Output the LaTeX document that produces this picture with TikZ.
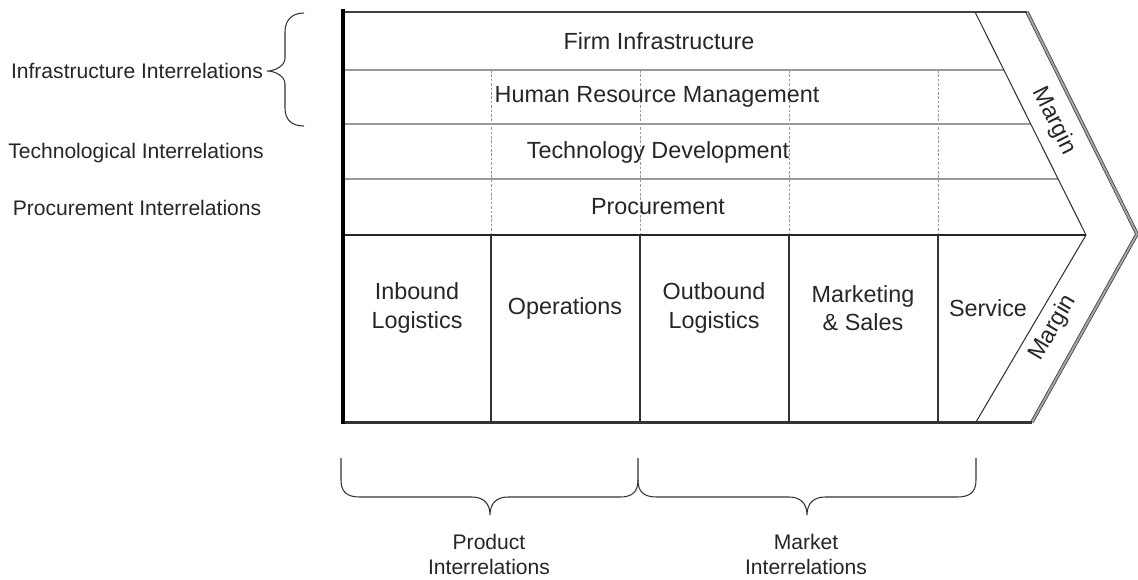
\documentclass[tikz,border=0pt]{standalone}
\usepackage{fontspec}
\setmainfont{Liberation Sans}
\usetikzlibrary{calc,positioning}

\tikzset{
  acttext/.style={font=\fontsize{13.3}{16}\selectfont, text=black!85, align=center, inner sep=0pt},
  sidetext/.style={font=\fontsize{12}{14.2}\selectfont, text=black!85, align=center, inner sep=0pt},
  supportline/.style={draw=black!40, line width=0.9pt},
  dotline/.style={draw=black!40, line width=0.5pt, dash pattern=on 1.5pt off 1pt},
  divline/.style={draw=black!80, line width=0.6pt},
  bracestroke/.style={draw=black!80, line width=0.6pt}
}

\begin{document}
\begin{tikzpicture}[x=0.02cm, y=-0.02cm]
\useasboundingbox (0,0) rectangle (1138,579);

% corners of the chain
\coordinate (tl) at (343,12);
\coordinate (ml) at (343,235);
\coordinate (bl) at (343,422);
\coordinate (tr) at (975,12);
\coordinate (tip) at (1086,235);
\coordinate (br) at (976,422);
\coordinate (otr) at (1027,12);
\coordinate (otip) at (1137,234);
\coordinate (obr) at (1032,422);

% dashed dividers through the support rows
\foreach \x in {491,640,789,938} {
    \draw[dotline] (\x,70) -- (\x,235);
}
% support rows end at the inner diagonal
\foreach \y/\xe in {70/1004, 124/1031, 179/1058} {
    \draw[supportline] (343,\y) -- (\xe,\y);
}
% primary activities
\draw[draw=black!85, line width=0.8pt] (ml) -- (tip);
\foreach \x in {491,640,789,938} {
    \draw[divline] (\x,235) -- (\x,422);
}

% margin diagonals
\draw[divline] (tr) -- (tip) -- (br);
\draw[draw=black!75, line width=0.45pt, double=black!35, double distance=1.1pt] (otr) -- (otip) -- (obr);

% outline
\draw[draw=black!75, line width=1.1pt] (tl) -- (otr);
\draw[draw=black!80, line width=1.7pt] (bl) -- (obr);
\draw[black, line width=2.8pt] (343,9) -- (343,424);

% support activities
\node[acttext] (firm) at (659,41) {Firm Infrastructure};
\node[acttext] (hrm) at (657,97) {Human Resource Management};
\node[acttext] (tech) at (658,152) {Technology Development};
\node[acttext] (proc) at (658,207) {Procurement};

% primary activities
\node[acttext] (inbound) at (417,308) {Inbound\\Logistics};
\node[acttext] (ops) at (565,308) {Operations};
\node[acttext] (outbound) at (714,308) {Outbound\\Logistics};
\node[acttext] (mkt) at (863,308) {Marketing\\\& Sales};
\node[acttext] (service) at (988,308) {Service};

% margin labels
\node[acttext, rotate=-63.5] (margin1) at (1054,121) {Margin};
\node[acttext, rotate=59.6] (margin2) at (1053,328) {Margin};

% interrelations on the left
\node[sidetext] (infra) at (137,71) {Infrastructure Interrelations};
\node[sidetext] (techrel) at (136,153) {Technological Interrelations};
\node[sidetext] (procrel) at (137,208) {Procurement Interrelations};

% brace for the infrastructure rows
\draw[bracestroke] (304,13) .. controls (292,13) and (285,20) .. (285,32) -- (285,58)
    .. controls (285,66) and (275,71) .. (267,71)
    .. controls (275,71) and (285,76) .. (285,84) -- (285,108)
    .. controls (285,120) and (292,126) .. (304,126);

% braces below the primary activities
\draw[bracestroke] (341,458) -- (341,480) .. controls (341,492) and (347,497) .. (360,497) -- (472,497)
    .. controls (483,497) and (490,503) .. (490,515)
    .. controls (490,503) and (497,497) .. (508,497) -- (620,497)
    .. controls (632,497) and (638,492) .. (638,480) -- (638,458);
\draw[bracestroke] (638,480) .. controls (638,492) and (644,497) .. (657,497) -- (789,497)
    .. controls (800,497) and (807,503) .. (807,515)
    .. controls (807,503) and (814,497) .. (825,497) -- (957,497)
    .. controls (970,497) and (976,492) .. (976,480) -- (976,458);

\node[sidetext] (product) at (489,554) {Product\\Interrelations};
\node[sidetext] (market) at (806,554) {Market\\Interrelations};
\end{tikzpicture}
\end{document}
